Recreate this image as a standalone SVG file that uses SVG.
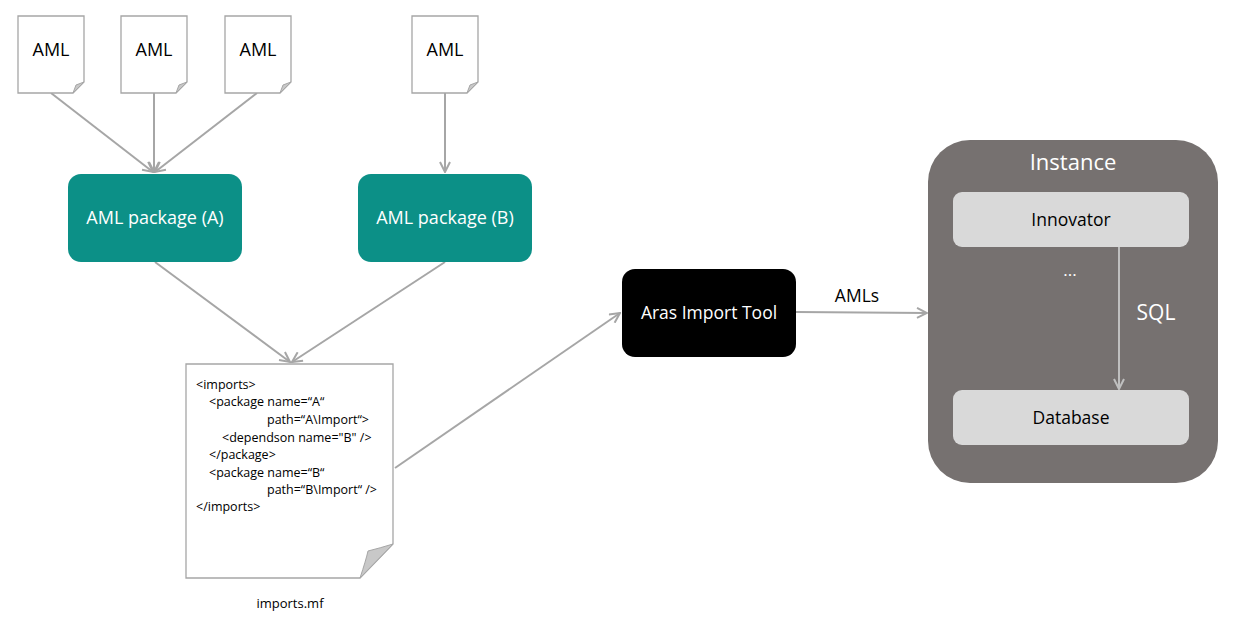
<svg xmlns="http://www.w3.org/2000/svg" width="1240" height="630" viewBox="0 0 1240 630">
<defs>
<style>
.doc{fill:#fff;stroke:#a6a6a6;stroke-width:1.3}
.fold{fill:#c8c8c8;stroke:#a6a6a6;stroke-width:1}
.t{font-family:"Open Sans","Liberation Sans",sans-serif}
.conn{stroke:#a6a6a6;stroke-width:2;fill:none;marker-end:url(#ah)}
.sql{stroke:#bfbfbf;stroke-width:2;fill:none;marker-end:url(#ah2)}
.code{font-family:"Open Sans","Liberation Sans",sans-serif;font-size:12.5px;fill:#000}
</style>
<marker id="ah" viewBox="0 0 12 12" refX="11" refY="6" markerWidth="12" markerHeight="12" markerUnits="userSpaceOnUse" orient="auto">
<path d="M1,1 L11,6 L1,11" fill="none" stroke="#a6a6a6" stroke-width="2"/>
</marker>
<marker id="ah2" viewBox="0 0 12 12" refX="11" refY="6" markerWidth="12" markerHeight="12" markerUnits="userSpaceOnUse" orient="auto">
<path d="M1,1 L11,6 L1,11" fill="none" stroke="#bfbfbf" stroke-width="2"/>
</marker>
</defs>
<rect width="1240" height="630" fill="#fff"/>

<g id="connectors">
<line class="conn" x1="51" y1="93" x2="153" y2="172"/>
<line class="conn" x1="154" y1="93" x2="154" y2="172"/>
<line class="conn" x1="257" y1="93" x2="155" y2="172"/>
<line class="conn" x1="445" y1="93" x2="445" y2="172"/>
<line class="conn" x1="155" y1="262" x2="290" y2="362"/>
<line class="conn" x1="445" y1="262" x2="292" y2="362"/>
<line class="conn" x1="395" y1="468" x2="620" y2="313"/>
<line class="conn" x1="796" y1="312" x2="927" y2="313"/>
<text class="t" x="857" y="302" font-size="17.5" text-anchor="middle" fill="#000">AMLs</text>
</g>

<g id="aml1">
<path class="doc" d="M18,16 H84 V82 L73,93 H18 Z"/>
<path class="fold" d="M84,82 L73,93 L76,85 Z"/>
<text class="t" x="51" y="56" font-size="18" text-anchor="middle">AML</text>
</g>
<g id="aml2">
<path class="doc" d="M121,16 H187 V82 L176,93 H121 Z"/>
<path class="fold" d="M187,82 L176,93 L179,85 Z"/>
<text class="t" x="154" y="56" font-size="18" text-anchor="middle">AML</text>
</g>
<g id="aml3">
<path class="doc" d="M225,16 H291 V82 L280,93 H225 Z"/>
<path class="fold" d="M291,82 L280,93 L283,85 Z"/>
<text class="t" x="258" y="56" font-size="18" text-anchor="middle">AML</text>
</g>
<g id="aml4">
<path class="doc" d="M412,16 H478 V82 L467,93 H412 Z"/>
<path class="fold" d="M478,82 L467,93 L470,85 Z"/>
<text class="t" x="445" y="56" font-size="18" text-anchor="middle">AML</text>
</g>

<g id="pkgA">
<rect x="68" y="174" width="174" height="88" rx="13" fill="#0c9087"/>
<text class="t" x="155" y="224" font-size="18" text-anchor="middle" fill="#fff">AML package (A)</text>
</g>
<g id="pkgB">
<rect x="358" y="174" width="174" height="88" rx="13" fill="#0c9087"/>
<text class="t" x="445" y="224" font-size="18" text-anchor="middle" fill="#fff">AML package (B)</text>
</g>

<g id="manifest">
<path class="doc" d="M186,364 H393 V544 L360,578 H186 Z"/>
<path class="fold" d="M393,544 L360,578 Q366,560 368,551 Q380,548 393,544 Z"/>
<text class="code" x="196" y="389">&lt;imports&gt;</text>
<text class="code" x="209" y="406">&lt;package name=“A“</text>
<text class="code" x="267" y="424">path=“A\Import“&gt;</text>
<text class="code" x="222" y="442">&lt;dependson name="B" /&gt;</text>
<text class="code" x="209" y="459">&lt;/package&gt;</text>
<text class="code" x="209" y="477">&lt;package name=“B“</text>
<text class="code" x="267" y="494">path=“B\Import“ /&gt;</text>
<text class="code" x="196" y="511">&lt;/imports&gt;</text>
<text class="t" x="290" y="608" font-size="13" text-anchor="middle">imports.mf</text>
</g>

<g id="tool">
<rect x="622" y="269" width="174" height="88" rx="13" fill="#000"/>
<text class="t" x="709" y="319" font-size="17.5" text-anchor="middle" fill="#fff">Aras Import Tool</text>
</g>

<g id="instance">
<rect x="928" y="140" width="290" height="343" rx="42" fill="#767170"/>
<text class="t" x="1073" y="170" font-size="22" text-anchor="middle" fill="#fff">Instance</text>
<text class="t" x="1070" y="276" font-size="17" text-anchor="middle" fill="#fff">...</text>
<text class="t" x="1156" y="320" font-size="21" text-anchor="middle" fill="#fff">SQL</text>
</g>
<g id="innovator">
<rect x="953" y="192" width="236" height="55" rx="9" fill="#d9d9d9"/>
<text class="t" x="1071" y="226" font-size="17.5" text-anchor="middle">Innovator</text>
</g>
<g id="database">
<rect x="953" y="390" width="236" height="55" rx="9" fill="#d9d9d9"/>
<text class="t" x="1071" y="424" font-size="17.5" text-anchor="middle">Database</text>
</g>
<g id="sql-connector">
<line class="sql" x1="1119" y1="247" x2="1119" y2="389"/>
</g>
</svg>
